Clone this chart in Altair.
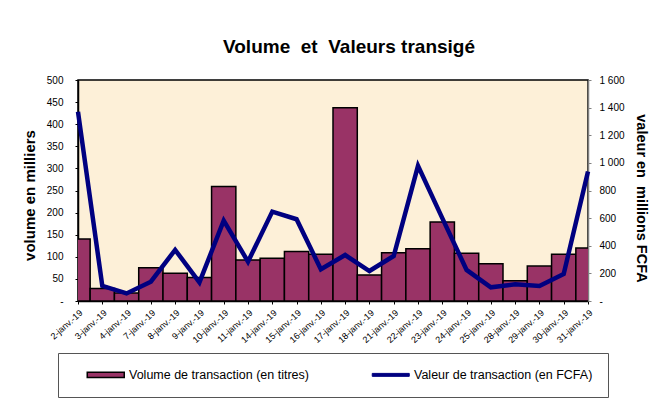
import json
import altair as alt
import pandas as pd

# ---- data ----
dates = ["2-janv.-19", "3-janv.-19", "4-janv.-19", "7-janv.-19", "8-janv.-19",
         "9-janv.-19", "10-janv.-19", "11-janv.-19", "14-janv.-19", "15-janv.-19",
         "16-janv.-19", "17-janv.-19", "18-janv.-19", "21-janv.-19", "22-janv.-19",
         "23-janv.-19", "24-janv.-19", "25-janv.-19", "28-janv.-19", "29-janv.-19",
         "30-janv.-19", "31-janv.-19"]
volume = [140, 28, 18, 75, 63, 53, 259, 93, 97, 112, 106, 437, 59, 109, 118,
          179, 108, 84, 46, 79, 106, 120]          # milliers de titres
valeur = [1370, 110, 55, 140, 370, 135, 582, 285, 647, 592, 230, 333, 217, 326,
          978, 600, 225, 99, 121, 109, 196, 937]   # millions FCFA
series = ["Volume de transaction (en titres)", "Valeur de transaction (en FCFA)"]

FONT = "Liberation Sans"
MAROON = "#993366"
NAVY = "#000080"
NB = "\u00a0"

df = pd.DataFrame({
    "idx": list(range(len(dates))),
    "date": dates,
    "volume": volume,
    "valeur": valeur,
    "serie": series[0],
})

label_expr = json.dumps(dates) + "[datum.value]"


def x_axis():
    return alt.Axis(
        values=list(range(len(dates))), labelExpr=label_expr, title=None,
        labelAngle=-42, labelFontSize=9, labelFont=FONT, labelColor="black",
        tickSize=3, tickColor="black", domainColor="black", domainWidth=1.5,
        labelPadding=4, grid=False, labelOverlap=False,
    )


x_scale = alt.Scale(domain=[0, len(dates) - 1], nice=False, zero=False)

base = alt.Chart(df)

legend = alt.Legend(
    orient="none", legendX=-20, legendY=273, direction="horizontal",
    title=NB, titleOrient="left", titlePadding=26, titleFontSize=11,
    strokeColor="#555555", padding=15.5,
    labelFont=FONT, labelFontSize=12.5, labelColor="black", labelLimit=500,
    labelExpr="datum.index == 1 ? datum.label + '" + NB * 11 + "' : datum.label",
    labelOffset=17, columnPadding=60, symbolSize=196,
    symbolType={"expr": "datum.index == 0 ? 'M-2.643,-0.36H2.643V0.36H-2.643Z' : 'M-2.643,-0.21H2.643V0.21H-2.643Z'"},
    symbolStrokeColor={"expr": "datum.index == 0 ? 'black' : '" + NAVY + "'"},
    symbolStrokeWidth={"expr": "datum.index == 0 ? 1.5 : 1"},
)

bars = base.transform_calculate(
    x0="datum.idx - 0.5", x1="datum.idx + 0.5"
).mark_rect(stroke="black", strokeWidth=1.5, clip=True).encode(
    x=alt.X("x0:Q", scale=x_scale, axis=x_axis()),
    x2="x1:Q",
    y=alt.Y("volume:Q", scale=alt.Scale(domain=[0, 500], nice=False),
            axis=alt.Axis(
                orient="left", values=list(range(0, 501, 50)),
                labelExpr="datum.value == 0 ? '-' : datum.label",
                title="volume en milliers", titleFont=FONT, titleFontSize=15,
                titleFontWeight="bold", titleColor="black", titleAngle=-90,
                titleX=-44, titleY=115, titleAlign="center", titleBaseline="alphabetic",
                labelFont=FONT, labelFontSize=10, labelColor="black", labelPadding=12,
                tickSize=3, tickColor="black", domainColor="black", domainWidth=1.5,
                grid=False)),
    y2=alt.datum(0),
    fill=alt.Fill("serie:N",
                  scale=alt.Scale(domain=series, range=[MAROON, NAVY]),
                  legend=legend),
)

line = base.mark_line(color=NAVY, strokeWidth=4.5).encode(
    x=alt.X("idx:Q", scale=x_scale, axis=x_axis()),
    y=alt.Y("valeur:Q", scale=alt.Scale(domain=[0, 1600], nice=False),
            axis=alt.Axis(
                orient="right", values=list(range(0, 1601, 200)),
                labelExpr="datum.value == 0 ? '-' : replace(format(datum.value, ','), ',', ' ')",
                title="valeur en " + NB + "millions FCFA", titleFont=FONT, titleFontSize=14.5,
                titleFontWeight="bold", titleColor="black", titleAngle=90,
                titleX=48, titleY=118, titleAlign="center", titleBaseline="alphabetic",
                labelFont=FONT, labelFontSize=10, labelColor="black", labelPadding=8,
                tickSize=3, tickColor="#808080", domainColor="#808080", domainWidth=1.5,
                grid=False)),
)

chart = alt.layer(bars, line).resolve_scale(y="independent").properties(
    width=510, height=221,
    title=alt.Title("Volume " + NB + "et " + NB + "Valeurs transigé", font=FONT, fontSize=19,
                    fontWeight="bold", color="black", anchor="middle", dx=16, dy=-14),
    autosize=alt.AutoSizeParams(type="none"),
    padding={"left": 70, "top": 72, "right": 61, "bottom": 101},
    background="white",
).configure_view(
    fill="#FDF0D8", stroke="black", strokeWidth=1.5,
)

chart.save("out.html", embed_options={"renderer": "svg", "actions": False})
